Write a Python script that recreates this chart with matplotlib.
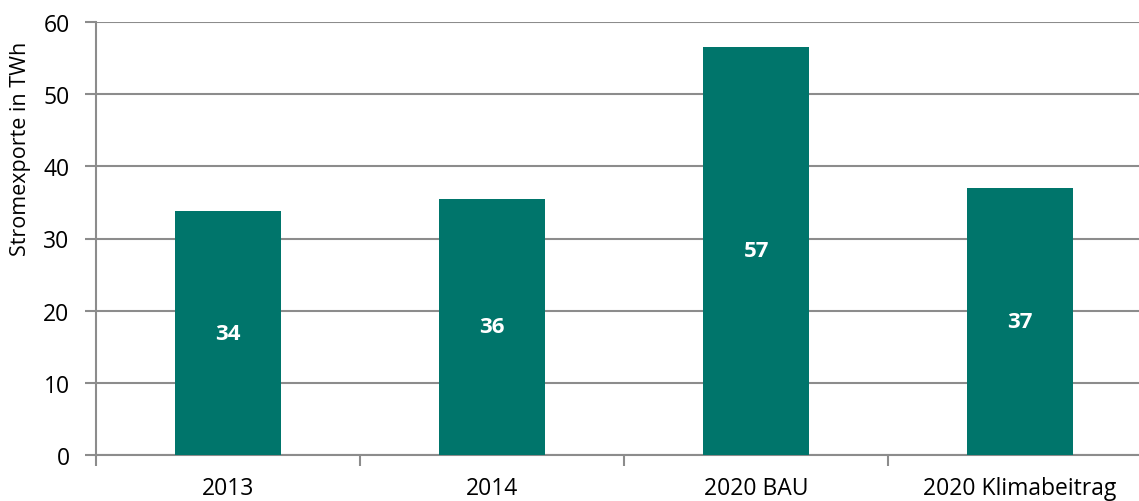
import matplotlib.pyplot as plt
from matplotlib.ticker import FixedLocator

categories = ['2013', '2014', '2020 BAU', '2020 Klimabeitrag']
exports = [33.8, 35.5, 56.6, 37.0]
value_labels = ['34', '36', '57', '37']
y_ticks = [0, 10, 20, 30, 40, 50, 60]

bar_color = '#00756B'
grid_color = '#8C8C8C'

plt.rcParams['font.family'] = ['Open Sans', 'DejaVu Sans']

fig = plt.figure(figsize=(11.39, 5.02), dpi=100)
ax = fig.add_axes([96 / 1139, 1 - 456 / 502, 1 - 96 / 1139, (456 - 23) / 502])

x = range(len(categories))
bars = ax.bar(x, exports, width=0.4, color=bar_color, zorder=3)

# value labels in the middle of each bar
for b, lab in zip(bars, value_labels):
    ax.text(b.get_x() + b.get_width() / 2, b.get_height() / 2, lab,
            ha='center', va='center', color='white', fontsize=16, fontweight='bold', zorder=4)

ax.set_xlim(-0.5, 3.45)
ax.set_ylim(0, 60)
ax.set_yticks(y_ticks)
ax.yaxis.grid(True, color=grid_color, linewidth=1.5, zorder=0)

# category labels centred, tick marks between categories
ax.set_xticks(list(x))
ax.set_xticklabels(categories)
ax.xaxis.set_minor_locator(FixedLocator([-0.5, 0.5, 1.5, 2.5]))
ax.tick_params(axis='x', which='major', length=0, pad=15, labelsize=16.5)
ax.tick_params(axis='x', which='minor', length=8, width=1.5, color=grid_color)
ax.tick_params(axis='y', length=8, width=1.5, color=grid_color, labelsize=16.5, pad=11)

for side in ['top', 'right']:
    ax.spines[side].set_visible(False)
for side in ['left', 'bottom']:
    ax.spines[side].set_color(grid_color)
    ax.spines[side].set_linewidth(1.5)

ax.set_ylabel('Stromexporte in TWh', fontsize=15.5)
ax.yaxis.set_label_coords(-0.062, 0.71)

fig.savefig('out.png', dpi=100)
